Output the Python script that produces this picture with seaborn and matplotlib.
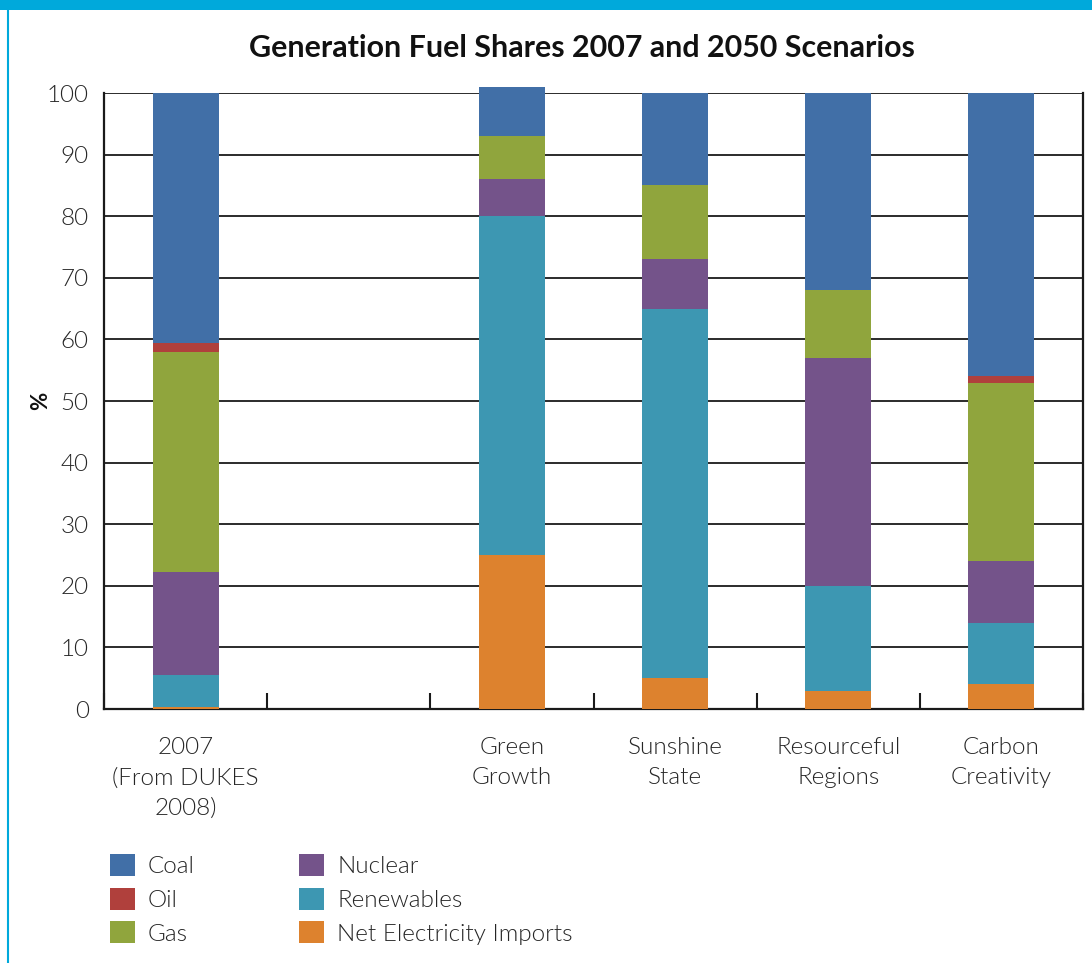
import numpy as np
import pandas as pd
import matplotlib
matplotlib.use("Agg")
import matplotlib.pyplot as plt
from matplotlib.patches import Rectangle, Patch
from matplotlib.lines import Line2D
import seaborn as sns

# Scenario categories (the empty slot keeps a gap after the 2007 baseline)
categories = ["2007\n(From DUKES\n2008)", " ", "Green\nGrowth", "Sunshine\nState",
              "Resourceful\nRegions", "Carbon\nCreativity"]

# Shares (%) per fuel, stacked bottom to top
imports    = [0.3, 0, 25, 5, 3, 4]
renewables = [5.2, 0, 55, 60, 17, 10]
nuclear    = [16.7, 0, 6, 8, 37, 10]
gas        = [35.8, 0, 7, 12, 11, 29]
oil        = [1.4, 0, 0, 0, 0, 1]
coal       = [40.6, 0, 8, 15, 32, 46]

fuels = ["Net Electricity Imports", "Renewables", "Nuclear", "Gas", "Oil", "Coal"]
series = [imports, renewables, nuclear, gas, oil, coal]
colors = {
    "Coal": "#416FA7",
    "Oil": "#B0403C",
    "Gas": "#90A53D",
    "Nuclear": "#74538A",
    "Renewables": "#3D97B2",
    "Net Electricity Imports": "#DD822E",
}

sns.set_style("white")
plt.rcParams["font.family"] = ["Lato", "DejaVu Sans"]

TEXT_W = 300
TEXT_C = "#262626"

fig = plt.figure(figsize=(10.92, 9.63), dpi=100)
ax = fig.add_axes([104 / 1092, 1 - 709 / 963, (1083 - 104) / 1092, (709 - 93) / 963])

# cumulative tops; draw tallest layer first so lower layers overlay it
tops = np.cumsum(np.array(series, dtype=float), axis=0)
for i in range(len(fuels) - 1, -1, -1):
    df = pd.DataFrame({"scenario": categories, "share": tops[i]})
    sns.barplot(data=df, x="scenario", y="share", order=categories,
                color=colors[fuels[i]], saturation=1, width=0.405,
                linewidth=0, ax=ax, clip_on=False, zorder=3)

ax.set_xlim(-0.5, len(categories) - 0.5)
ax.set_ylim(0, 100)
ax.set_yticks(np.arange(0, 101, 10))
ax.yaxis.grid(True, color="#1a1a1a", linewidth=1.3)
ax.set_axisbelow(True)

for side in ["left", "right", "bottom"]:
    ax.spines[side].set_visible(True)
    ax.spines[side].set_color("#1a1a1a")
    ax.spines[side].set_linewidth(1.6)
ax.spines["top"].set_visible(False)

label_kw = dict(fontsize=17.5, fontweight=TEXT_W, color=TEXT_C)
ax.set_xticks(range(len(categories)))
ax.set_xticklabels(categories, linespacing=1.55, **label_kw)
ax.tick_params(axis="x", which="major", bottom=True, length=0, pad=20)
# separators between category slots, pointing up into the plot
ax.set_xticks(np.arange(-0.5, len(categories), 1.0), minor=True)
ax.tick_params(axis="x", which="minor", bottom=True, direction="in", length=11.5,
               width=1.5, color="#1a1a1a")
ax.tick_params(axis="y", length=0, pad=11)
for t in ax.get_yticklabels():
    t.set_fontsize(17.5)
    t.set_fontweight(TEXT_W)
    t.set_color(TEXT_C)

ax.set_xlabel("")
ax.set_ylabel("%", fontsize=16, fontweight="bold", labelpad=-3, color="#111111")

fig.text(582 / 1092, 1 - 48 / 963, "Generation Fuel Shares 2007 and 2050 Scenarios",
         ha="center", va="center", fontsize=21.9, fontweight="bold", color="#111111")

# frame decoration: cyan band on top and thin rule on the left
fig.patches.append(Rectangle((0, 1 - 10 / 963), 1, 10 / 963, transform=fig.transFigure,
                             facecolor="#00A9DB", edgecolor="none", zorder=5))
fig.lines.append(Line2D([7.5 / 1092, 7.5 / 1092], [0, 1], transform=fig.transFigure,
                        color="#00A9DB", linewidth=1.5, zorder=5))

legend_order = ["Coal", "Oil", "Gas", "Nuclear", "Renewables", "Net Electricity Imports"]
handles = [Patch(facecolor=colors[f], edgecolor="none", label=f) for f in legend_order]
leg = fig.legend(handles=handles, loc="upper left", ncol=2,
                 bbox_to_anchor=(110 / 1092, 1 - 854 / 963), frameon=False,
                 borderpad=0, borderaxespad=0, handlelength=1.03, handleheight=1.03,
                 handletextpad=0.53, labelspacing=0.42, columnspacing=4.3,
                 prop={"size": 17.5, "weight": TEXT_W})
for t in leg.get_texts():
    t.set_color(TEXT_C)

fig.savefig("out.png", dpi=100, facecolor="white")
